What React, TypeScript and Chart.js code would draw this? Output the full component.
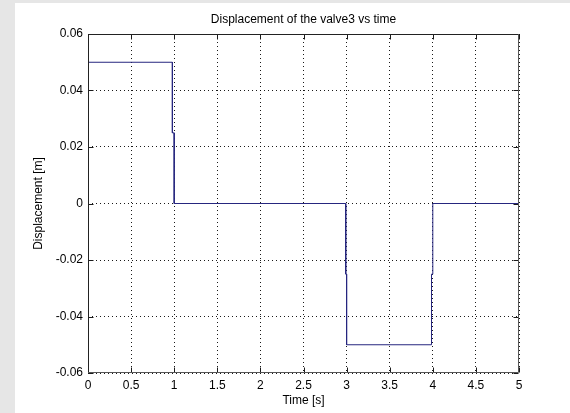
import React, { useEffect, useRef } from "react";
import { Chart, registerables } from "chart.js";

Chart.register(...registerables);

// ---- data ----
const chartTitle = "Displacement of the valve3 vs time";
const xAxisTitle = "Time [s]";
const yAxisTitle = "Displacement [m]";
const timeValues = [0, 0.979, 0.979, 1.0, 1.0, 2.99, 2.99, 3.0, 3.0, 3.985, 3.985, 4.0, 4.0, 5];
const displacementValues = [0.05, 0.05, 0.025, 0.025, 0, 0, -0.025, -0.025, -0.05, -0.05, -0.025, -0.025, 0, 0];
const xTickValues = [0, 0.5, 1, 1.5, 2, 2.5, 3, 3.5, 4, 4.5, 5];
const yTickValues = [-0.06, -0.04, -0.02, 0, 0.02, 0.04, 0.06];

const FONT = "'Liberation Sans', Arial, Helvetica, sans-serif";

const frame = {
  id: "matlabFrame",
  beforeDraw(chart: any) {
    const ctx = chart.ctx;
    ctx.save();
    ctx.fillStyle = "#e6e6e6";
    ctx.fillRect(0, 0, chart.width, chart.height);
    ctx.fillStyle = "#ffffff";
    ctx.fillRect(15, 3, chart.width - 15, chart.height - 3);
    ctx.restore();
  },
  afterDraw(chart: any) {
    const ctx = chart.ctx;
    const { left, right, top, bottom } = chart.chartArea;
    const xs = chart.scales.x;
    const ys = chart.scales.y;
    const L = Math.round(left) + 0.5;
    const R = Math.round(right) - 0.5;
    const T = Math.round(top) + 0.5;
    const B = Math.round(bottom) - 0.5;
    ctx.save();
    ctx.lineWidth = 1;
    ctx.strokeStyle = "#1a1a1a";
    ctx.beginPath();
    xs.ticks.forEach((t: any) => {
      const px = Math.round(xs.getPixelForValue(t.value)) + 0.5;
      ctx.moveTo(px, B);
      ctx.lineTo(px, B - 5);
      ctx.moveTo(px, T);
      ctx.lineTo(px, T + 5);
    });
    ys.ticks.forEach((t: any) => {
      const py = Math.round(ys.getPixelForValue(t.value)) + 0.5;
      ctx.moveTo(L, py);
      ctx.lineTo(L + 5, py);
      ctx.moveTo(R, py);
      ctx.lineTo(R - 5, py);
    });
    ctx.stroke();
    // box
    ctx.strokeStyle = "#222222";
    ctx.beginPath();
    ctx.moveTo(L, B);
    ctx.lineTo(L, T);
    ctx.lineTo(R, T);
    ctx.stroke();
    ctx.strokeStyle = "#555555";
    ctx.beginPath();
    ctx.moveTo(R, T);
    ctx.lineTo(R, B);
    ctx.lineTo(L, B);
    ctx.stroke();
    // title
    ctx.fillStyle = "#000000";
    ctx.font = `12px ${FONT}`;
    ctx.textAlign = "center";
    ctx.textBaseline = "middle";
    ctx.fillText(chartTitle, (left + right) / 2, 20);
    ctx.restore();
  },
};

export default function App() {
  const ref = useRef<HTMLCanvasElement | null>(null);
  useEffect(() => {
    document.body.style.margin = "0";
    const canvas = ref.current;
    if (!canvas) return;
    const fmt = (v: number) => String(Math.round(v * 100) / 100);
    const chart = new Chart(canvas, {
      type: "line",
      data: {
        datasets: [
          {
            data: timeValues.map((t, i) => ({ x: t, y: displacementValues[i] })),
            borderColor: "#26267f",
            borderWidth: 1,
            pointRadius: 0,
            tension: 0,
            fill: false,
          },
        ],
      },
      options: {
        animation: false,
        responsive: false,
        devicePixelRatio: 1,
        layout: { padding: { left: 15, top: 34, right: 51, bottom: 0 } },
        plugins: {
          legend: { display: false },
          tooltip: { enabled: false },
          title: { display: false },
        },
        scales: {
          x: {
            type: "linear",
            min: 0,
            max: 5,
            afterBuildTicks: (s: any) => {
              s.ticks = xTickValues.map((v) => ({ value: v }));
            },
            ticks: {
              padding: 5,
              color: "#000",
              font: { family: FONT, size: 12 },
              callback: (v: any) => fmt(Number(v)),
              maxRotation: 0,
              autoSkip: false,
            },
            grid: { color: "rgba(0,0,0,0.9)", drawTicks: false, lineWidth: 1 },
            border: { display: false, dash: [1, 3] },
            title: {
              display: true,
              text: xAxisTitle,
              color: "#000",
              font: { family: FONT, size: 12 },
              padding: { top: 0, bottom: 5 },
            },
            afterFit: (s: any) => {
              s.height = 40;
            },
          },
          y: {
            type: "linear",
            min: -0.06,
            max: 0.06,
            afterBuildTicks: (s: any) => {
              s.ticks = yTickValues.map((v) => ({ value: v }));
            },
            ticks: {
              padding: 5,
              color: "#000",
              font: { family: FONT, size: 12 },
              callback: (v: any) => fmt(Number(v)),
              autoSkip: false,
            },
            grid: { color: "rgba(0,0,0,0.9)", drawTicks: false, lineWidth: 1 },
            border: { display: false, dash: [1, 3] },
            title: {
              display: true,
              text: yAxisTitle,
              color: "#000",
              font: { family: FONT, size: 12 },
              padding: { top: 16, bottom: 0 },
            },
            afterFit: (s: any) => {
              s.width = 73;
            },
          },
        },
      },
      plugins: [frame],
    } as any);
    return () => chart.destroy();
  }, []);
  return (
    <div style={{ position: "fixed", left: 0, top: 0, width: 570, height: 413, background: "#e6e6e6" }}>
      <canvas ref={ref} width={570} height={413} style={{ display: "block", width: 570, height: 413 }} />
    </div>
  );
}
